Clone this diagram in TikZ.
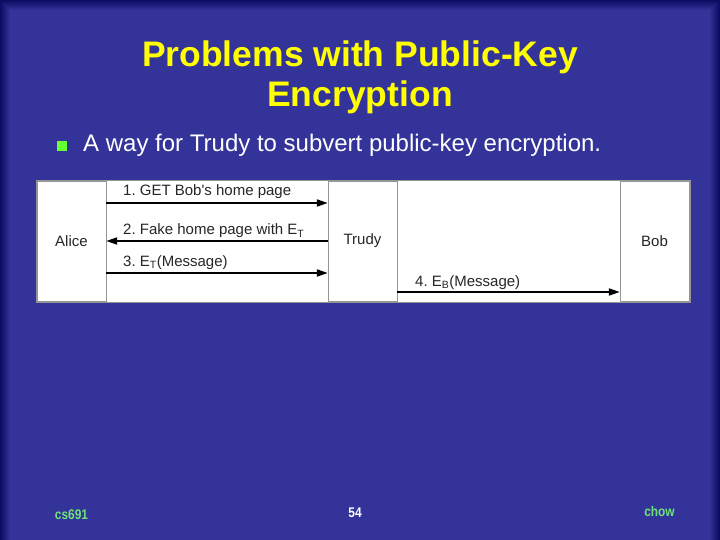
\documentclass[tikz,border=0pt]{standalone}
\usepackage{fontspec}
\setmainfont{Liberation Sans}
\usetikzlibrary{arrows.meta,positioning}
\frenchspacing
\definecolor{slideblue}{RGB}{51,51,153}
\definecolor{edgeblue}{RGB}{12,12,100}
\definecolor{titleyellow}{RGB}{255,255,0}
\definecolor{bulletgreen}{RGB}{102,255,51}
\definecolor{footgreen}{RGB}{110,225,120}
\definecolor{boxgray}{RGB}{150,150,150}
\tikzset{
  box/.style={draw=boxgray,fill=white,minimum width=69pt,minimum height=120pt,inner sep=0pt,font=\fontsize{15}{18}\selectfont,text=black!85},
  msg/.style={line width=2pt,-{Triangle[length=11pt,width=7pt]}},
  lbl/.style={anchor=base west,inner sep=0pt,font=\fontsize{15}{18}\selectfont,text=black!85},
  foot/.style={anchor=base,inner sep=0pt,font=\bfseries\fontsize{14}{16}\selectfont}
}

\begin{document}
\begin{tikzpicture}[x=1pt,y=-1pt]
\useasboundingbox (0,0) rectangle (720,540);
\fill[slideblue] (0,0) rectangle (720,540);
% darker rim on left, top and right
\foreach \i in {0,...,9}{
  \pgfmathsetmacro\p{\i*10}
  \fill[slideblue!\p!edgeblue] (\i,\i) rectangle (\i+1,540);
  \fill[slideblue!\p!edgeblue] (\i,\i) rectangle (720-\i,\i+1);
  \fill[slideblue!\p!edgeblue] (719-\i,\i) rectangle (720-\i,540);
}
% title and bullet
\node[anchor=base,inner sep=0pt,text=titleyellow,font=\bfseries\fontsize{35.5}{40}\selectfont] (title) at (360,67) {Problems with Public-Key};
\node[anchor=base,inner sep=0pt,text=titleyellow,font=\bfseries\fontsize{35.5}{40}\selectfont] (title2) at (360,107) {Encryption};
\node[fill=bulletgreen,minimum size=10pt,inner sep=0pt] (bullet) at (62,146) {};
\node[anchor=base west,inner sep=0pt,text=white,font=\fontsize{24}{28}\selectfont] (point) at (83,152) {A way for Trudy to subvert public-key encryption.};
% diagram
\draw[boxgray,fill=white] (36,180) rectangle (690,302);
\node[box] (alice) at (71.5,241) {Alice};
\node[box] (trudy) at (362.5,241) {Trudy};
\node[box] (bob) at (654.5,241) {Bob};
\coordinate (m1) at (0,203);
\coordinate (m2) at (0,241);
\coordinate (m3) at (0,273);
\coordinate (m4) at (0,292);
\draw[msg] (alice.east |- m1) -- (trudy.west |- m1);
\draw[msg] (trudy.west |- m2) -- (alice.east |- m2);
\draw[msg] (alice.east |- m3) -- (trudy.west |- m3);
\draw[msg] (trudy.east |- m4) -- (bob.west |- m4);
\node[lbl] (l1) at (123,196) {1. GET Bob\textquotesingle s home page};
\node[lbl] (l2) at (123,235) {2. Fake home page with E\textsubscript{T}};
\node[lbl] (l3) at (123,266) {3. E\textsubscript{T}(Message)};
\node[lbl] (l4) at (415,286) {4. E\textsubscript{B}(Message)};
% footer
\node[foot,text=footgreen] (course) at (71.5,519) {\scalebox{0.85}[1]{cs691}};
\node[foot,text=white] (page) at (355,517) {\scalebox{0.85}[1]{54}};
\node[foot,text=footgreen] (author) at (659.5,516) {\scalebox{0.85}[1]{chow}};
\end{tikzpicture}
\end{document}
